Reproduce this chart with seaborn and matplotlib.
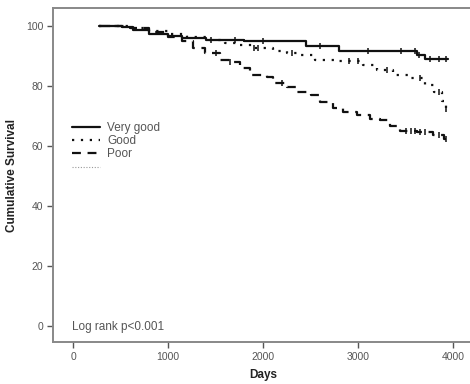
import numpy as np
import pandas as pd
import matplotlib
matplotlib.use("Agg")
import matplotlib.pyplot as plt
from matplotlib.lines import Line2D
import seaborn as sns

groups = ["Very good", "Good", "Poor"]

vg_time = [270, 520, 630, 800, 1000, 1150, 1400, 1800, 2450, 2800, 3620, 3700, 3950]
vg_surv = [100, 99.7, 98.7, 97.5, 96.8, 96.0, 95.5, 95.0, 93.3, 91.7, 90.5, 89.0, 89.0]
vg_cens = [1450, 1700, 2000, 2600, 3100, 3450, 3600, 3640, 3760, 3850, 3930]

good_time = [270, 600, 800, 1000, 1200, 1400, 1600, 1750, 1900, 2100, 2250, 2400, 2550, 2750,
             2950, 3050, 3200, 3370, 3550, 3700, 3800, 3880, 3920, 3950]
good_surv = [100, 99.3, 98.3, 97.3, 96.3, 95.3, 94.3, 93.7, 92.6, 91.8, 91.1, 90.3, 88.7, 88.4,
             88.3, 87.0, 85.3, 83.7, 82.6, 80.5, 78.0, 75.0, 72.5, 72.5]
good_cens = [1900, 1950, 2300, 2900, 3000, 3300, 3650, 3850, 3930]

poor_time = [270, 600, 800, 1000, 1150, 1260, 1390, 1547, 1650, 1760, 1860, 2040, 2100, 2250,
             2360, 2500, 2600, 2740, 2840, 2990, 3130, 3230, 3340, 3440, 3620, 3790, 3900, 3950]
poor_surv = [100, 99.3, 98.0, 96.5, 95.0, 92.7, 90.9, 88.7, 88.1, 85.9, 83.7, 83.1, 80.9, 79.6,
             78.1, 77.0, 74.8, 72.6, 71.4, 70.3, 69.2, 68.7, 66.7, 65.1, 64.8, 63.7, 62.5, 62.5]
poor_cens = [1500, 1650, 2200, 3500, 3560, 3600, 3650, 3700, 3850, 3930]

x_ticks = [0, 1000, 2000, 3000, 4000]
y_ticks = [0, 20, 40, 60, 80, 100]

series = {
    "Very good": (vg_time, vg_surv, vg_cens),
    "Good": (good_time, good_surv, good_cens),
    "Poor": (poor_time, poor_surv, poor_cens),
}

rows, crows = [], []
for g, (t, s, c) in series.items():
    for ti, si in zip(t, s):
        rows.append({"group": g, "Days": ti, "surv": si})
    t_arr = np.array(t)
    s_arr = np.array(s)
    for ci in c:
        idx = np.searchsorted(t_arr, ci, side="right") - 1
        crows.append({"group": g, "Days": ci, "surv": s_arr[idx]})
df = pd.DataFrame(rows)
cdf = pd.DataFrame(crows)

sns.set_style("white")
plt.rcParams["font.family"] = ["Liberation Sans", "DejaVu Sans"]

fig = plt.figure(figsize=(4.70, 3.84), dpi=100)
ax = fig.add_axes([0.113, 0.109, 0.895, 0.870])

dashes = {"Very good": "", "Good": (1, 3), "Poor": (4, 3)}
sns.lineplot(data=df, x="Days", y="surv", style="group", dashes=dashes,
             drawstyle="steps-post", estimator=None, color="#111111",
             linewidth=1.6, legend=False, ax=ax)
sns.scatterplot(data=cdf, x="Days", y="surv", marker="|", color="#111111",
                s=22, linewidth=1.1, legend=False, ax=ax)

ax.set_xlim(-210, 4217)
ax.set_ylim(-5.3, 106)
ax.set_xticks(x_ticks)
ax.set_yticks(y_ticks)
ax.tick_params(axis="both", colors="#555555", labelsize=7.5, length=4, width=1,
               direction="out", left=True, bottom=True, pad=3)
for sp in ax.spines.values():
    sp.set_color("#888888")
    sp.set_linewidth(1.4)
ax.spines["right"].set_visible(False)

ax.set_xlabel("Days", fontsize=8.5, fontweight="bold", color="#222222", labelpad=5)
ax.set_ylabel("Cumulative Survival", fontsize=8.5, fontweight="bold", color="#222222", labelpad=6)

ax.text(0.046, 0.045, "Log rank p<0.001", transform=ax.transAxes, fontsize=8.5,
        color="#555555", ha="left", va="center")

handles = [
    Line2D([], [], color="#111111", lw=1.6, linestyle="-"),
    Line2D([], [], color="#111111", lw=1.6, linestyle=(0, (1, 3))),
    Line2D([], [], color="#111111", lw=1.6, linestyle=(0, (4, 3))),
    Line2D([], [], color="#999999", lw=0.8, linestyle=(0, (1, 1.5))),
]
leg = ax.legend(handles, groups + [""], loc="upper left", bbox_to_anchor=(0.045, 0.66),
                frameon=False, fontsize=8.5, handlelength=2.4, handletextpad=0.6,
                labelspacing=0.12, borderaxespad=0, borderpad=0)
for t in leg.get_texts():
    t.set_color("#555555")

fig.savefig("out.png", dpi=100)
